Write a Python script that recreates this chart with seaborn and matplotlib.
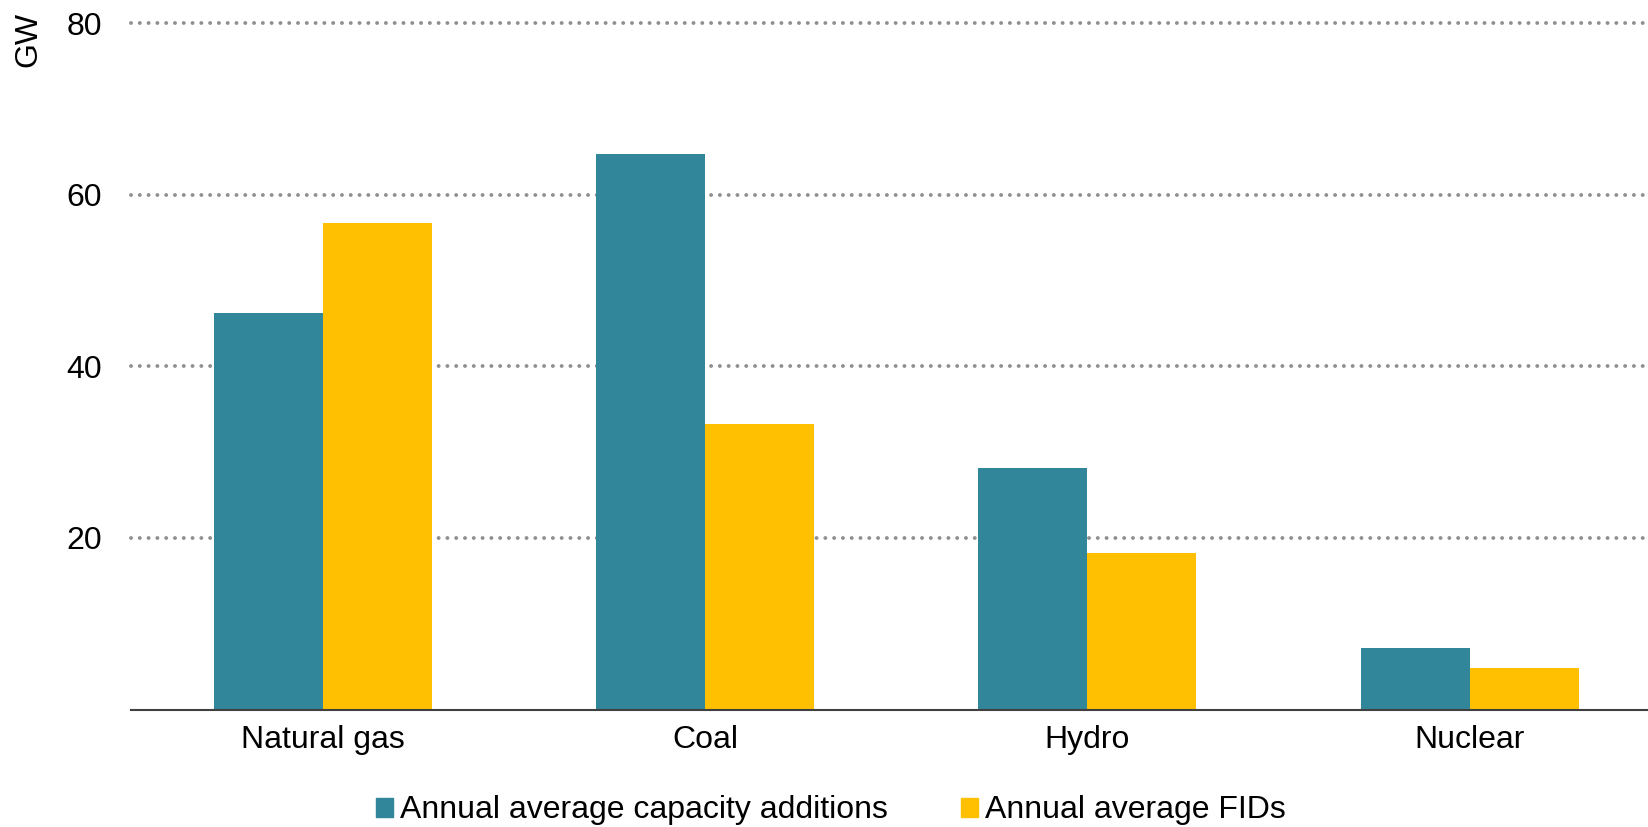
import matplotlib
matplotlib.use("Agg")
import matplotlib.pyplot as plt
import matplotlib.patches as mpatches
import pandas as pd
import seaborn as sns

categories = ["Natural gas", "Coal", "Hydro", "Nuclear"]
capacity_additions = [46.2, 64.7, 28.2, 7.2]
fids = [56.7, 33.3, 18.3, 4.8]
series_names = ["Annual average capacity additions", "Annual average FIDs"]
colors = ["#32869a", "#fec000"]
y_ticks = [20, 40, 60, 80]

df = pd.DataFrame({
    "category": categories * 2,
    "value": capacity_additions + fids,
    "series": [series_names[0]] * len(categories) + [series_names[1]] * len(categories),
})

sns.set_style("white")
plt.rcParams["font.family"] = ["Liberation Sans", "DejaVu Sans"]
plt.rcParams["text.color"] = "black"

fig = plt.figure(figsize=(16.48, 8.27), dpi=100)
ax = fig.add_axes([0.0797, 0.142, 0.9203, 0.830])

sns.barplot(data=df, x="category", y="value", hue="series", order=categories,
            hue_order=series_names, palette=colors, width=0.57, saturation=1,
            linewidth=0, ax=ax, legend=False)

ax.set_xlim(-0.5, 3.466)
ax.set_ylim(0, 80)
ax.set_yticks(y_ticks)
ax.set_xlabel("")
ax.set_ylabel("")
ax.tick_params(axis="y", length=0, pad=21, labelsize=23, labelcolor="black")
ax.tick_params(axis="x", length=0, pad=11, labelsize=23, labelcolor="black")

for s in ["top", "right", "left"]:
    ax.spines[s].set_visible(False)
ax.spines["bottom"].set_color("#404040")
ax.spines["bottom"].set_linewidth(1.5)

ax.set_axisbelow(True)
ax.yaxis.grid(True, color="#8f8f8f", linewidth=2.8, linestyle=(0, (0.01, 2.25)),
              dash_capstyle="round")
ax.xaxis.grid(False)
# keep the top gridline (at 80) from being clipped in half
for line in ax.get_ygridlines():
    line.set_clip_on(False)

fig.text(0.017, 0.952, "GW", rotation=90, va="center", ha="center", fontsize=23,
         color="black")

handles = [mpatches.Patch(color=c, label=n) for c, n in zip(colors, series_names)]
leg = fig.legend(handles=handles, loc="center", bbox_to_anchor=(0.504, 0.02), ncol=2,
                 frameon=False, fontsize=23, handlelength=0.55, handleheight=0.55,
                 handletextpad=0.2, columnspacing=2.3, borderpad=0, borderaxespad=0)
for t in leg.get_texts():
    t.set_color("black")

fig.savefig("out.png", dpi=100)
